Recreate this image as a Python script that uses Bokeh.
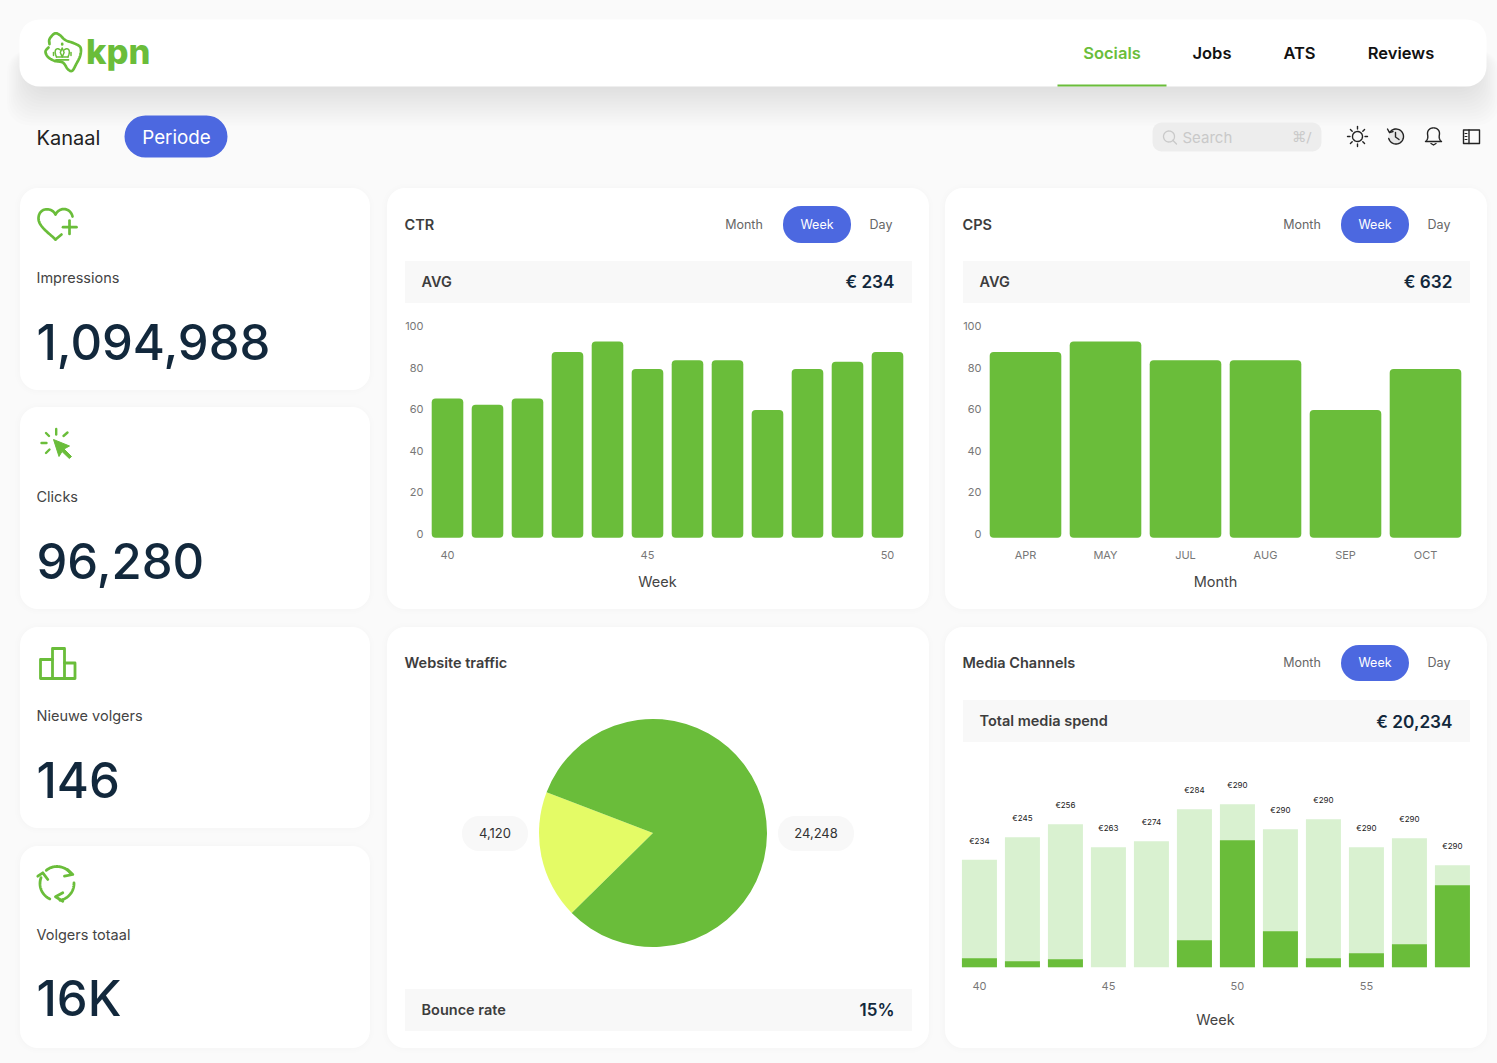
import numpy as np
from bokeh.core.properties import value
from bokeh.embed import file_html
from bokeh.resources import INLINE
from bokeh.layouts import column
from bokeh.models import Range1d, FactorRange, FixedTicker, ColumnDataSource
from bokeh.plotting import figure

# ---- data ----
ctr_index = list(range(12))
ctr_values = [65.2, 62.2, 65.2, 87.5, 92.6, 79.3, 83.5, 83.5, 59.6, 79.3, 82.8, 87.5]
ctr_tick_pos = [0, 5, 11]
ctr_tick_labels = ["40", "45", "50"]

cps_months = ["APR", "MAY", "JUL", "AUG", "SEP", "OCT"]
cps_values = [87.5, 92.6, 83.5, 83.5, 59.6, 79.3]
y_ticks = [0, 20, 40, 60, 80, 100]

pie_labels = ["4,120", "24,248"]
pie_shares = [18.2, 81.8]

media_index = list(range(12))
media_dark = [9, 6, 8, 0, 0, 27, 127, 36, 9, 14, 23, 82]
media_total = [107.5, 130, 143, 120, 126, 158, 163, 138, 148, 120, 129, 102]
media_labels = ["€234", "€245", "€256", "€263", "€274", "€284", "€290", "€290", "€290", "€290", "€290", "€290"]
media_tick_pos = [0, 3, 6, 9]
media_tick_labels = ["40", "45", "50", "55"]

kpi_names = ["Impressions", "Clicks", "Nieuwe volgers", "Volgers totaal"]
kpi_values = ["1,094,988", "96,280", "146", "16K"]
nav_items = ["Socials", "Jobs", "ATS", "Reviews"]

# ---- style ----
GREEN = "#6abd3a"
PALE = "#d9f1d0"
YELLOW = "#e4fb66"
BLUE = "#4c68e0"
INK = "#12283c"
BODY = "#444444"
FONT = "Inter"
SEMI = "Inter SemiBold"
MEDIUM = "Inter Medium"

W, H = 1498, 1064
bg = figure(width=W, height=H, x_range=Range1d(0, W), y_range=Range1d(H, 0),
            x_axis_location=None, y_axis_location=None, frame_align=False,
            output_backend="svg", toolbar_location=None, min_border=0,
            background_fill_color="#fafafa", border_fill_color="#fafafa",
            outline_line_color=None, styles={"position": "absolute", "left": "0px", "top": "0px"})
bg.grid.visible = False


def box(l, t, r, b, color="#ffffff", radius=0, alpha=1.0):
    bg.quad(left=[l], right=[r], top=[t], bottom=[b], fill_color=color, fill_alpha=alpha,
            line_color=None, border_radius=int(round(radius)))


def txt(x, y, s, size, color=BODY, align="left", font=FONT, bold=False):
    bg.text(x=[x], y=[y], text=[s], text_font=value(font), text_font_size=f"{size}px", text_color=color,
            text_align=align, text_baseline="middle", text_font_style="bold" if bold else "normal")


def stroke(xs, ys, color=GREEN, width=2.5):
    bg.line(xs, ys, line_color=color, line_width=width, line_cap="round", line_join="round")


def arc_pts(cx, cy, r, a0, a1, n=40):
    a = np.radians(np.linspace(a0, a1, n))
    return cx + r * np.cos(a), cy + r * np.sin(a)


def bez(p0, p1, p2, p3, n=24):
    t = np.linspace(0, 1, n)[:, None]
    p0, p1, p2, p3 = map(np.array, (p0, p1, p2, p3))
    return (1 - t) ** 3 * p0 + 3 * (1 - t) ** 2 * t * p1 + 3 * (1 - t) * t ** 2 * p2 + t ** 3 * p3


# header shadow
for i in range(14):
    g = 3 * (14 - i)
    box(20 - (g - 21) * 0.6, 50, 1487 + (g - 21) * 0.6, 84 + g, "#000000", 22, 0.0065)
box(20, 20, 1487, 87, radius=20)
box(1058, 85, 1167, 87, GREEN)

# logo
logo_zoom = [(30, 50), (30, 35), (45, 18), (60, 22), (78, 38), (105, 48), (123, 60), (122, 85), (110, 110),
             (98, 130), (85, 125), (70, 105), (45, 100), (25, 88), (18, 72), (27, 60)]
logo_x = [40 + p[0] / 3 for p in logo_zoom]
logo_y = [28 + p[1] / 3 for p in logo_zoom]
pts = []
for i in range(len(logo_x) - 1):
    p0 = (logo_x[max(i - 1, 0)], logo_y[max(i - 1, 0)])
    p1 = (logo_x[i], logo_y[i])
    p2 = (logo_x[i + 1], logo_y[i + 1])
    p3 = (logo_x[min(i + 2, len(logo_x) - 1)], logo_y[min(i + 2, len(logo_y) - 1)])
    c1 = (p1[0] + (p2[0] - p0[0]) / 6, p1[1] + (p2[1] - p0[1]) / 6)
    c2 = (p2[0] - (p3[0] - p1[0]) / 6, p2[1] - (p3[1] - p1[1]) / 6)
    pts.append(bez(p1, c1, c2, p2, 10))
pts = np.vstack(pts)
stroke(pts[:, 0], pts[:, 1], GREEN, 2.7)
stroke([62.7, 62.7], [44.3, 45], GREEN, 2.6)
stroke([56.5, 69], [60.3, 60.3], GREEN, 1.8)
cr1 = bez((57, 57.5), (53.5, 50), (57.5, 47.5), (60.8, 50.5), 10)
cr2 = bez((68.5, 57.5), (72, 50), (68, 47.5), (64.6, 50.5), 10)
stroke(cr1[:, 0], cr1[:, 1], GREEN, 1.5)
stroke(cr2[:, 0], cr2[:, 1], GREEN, 1.5)
stroke([62.7, 60.8, 62.7, 64.6, 62.7], [48.5, 53, 57.5, 53, 48.5], GREEN, 1.5)
stroke([57, 68.5], [57.5, 57.5], GREEN, 1.5)
stroke([54, 54], [53, 56], GREEN, 1.5)
stroke([71.5, 71.5], [53, 56], GREEN, 1.5)
txt(86.5, 52, "kpn", 34.5, GREEN, font="Inter ExtraBold")

# nav
for name, x, col in zip(nav_items, [1112.5, 1212.5, 1300, 1401.5], [GREEN, "#111111", "#111111", "#111111"]):
    txt(x, 53.5, name, 16.5, col, "center", SEMI)

# toolbar row
txt(37, 138, "Kanaal", 20, "#222222")
box(125, 116, 228, 158, BLUE, 21)
txt(177, 138, "Periode", 18.8, "#ffffff", "center")
box(1153, 123, 1322, 152, "#ededed", 9)
sx, sy = arc_pts(1169.5, 137, 5.5, 0, 360)
stroke(sx, sy, "#c9c9c9", 1.3)
stroke([1173.5, 1177], [141, 144.5], "#c9c9c9", 1.3)
txt(1183, 137.5, "Search", 15, "#c9c9c9")
txt(1312, 137.5, "⌘/", 14.5, "#c9c9c9", "right", "DejaVu Sans")

DK = "#222222"
sx, sy = arc_pts(1358, 137, 5, 0, 360)
stroke(sx, sy, DK, 1.4)
for a in range(0, 360, 45):
    c, s_ = np.cos(np.radians(a)), np.sin(np.radians(a))
    stroke([1358 + 7.5 * c, 1358 + 10 * c], [137 + 7.5 * s_, 137 + 10 * s_], DK, 1.4)

sx, sy = arc_pts(1396.5, 137, 7.5, 0, 360)
bg.patch(sx, sy, fill_color="#e6e6e6", line_color=None)
sx, sy = arc_pts(1396.5, 137, 7.5, -145, 165)
stroke(sx, sy, DK, 1.4)
stroke([1388, 1390, 1393.5], [129.5, 133.2, 132], DK, 1.4)
stroke([1396, 1396, 1399.5], [133, 137.5, 140], DK, 1.4)

b1 = bez((1426, 142), (1429.5, 139), (1428, 136), (1428, 134))
b2 = bez((1428, 134), (1428, 126.5), (1440, 126.5), (1440, 134))
b3 = bez((1440, 134), (1440, 136), (1438.5, 139), (1442, 142))
bell = np.vstack([b1, b2, b3, [[1426, 142]]])
stroke(bell[:, 0], bell[:, 1], DK, 1.4)
stroke([1431.5, 1434, 1436.5], [144, 145.5, 144], DK, 1.4)

stroke([1464, 1480, 1480, 1464, 1464], [130.5, 130.5, 144, 144, 130.5], DK, 1.4)
stroke([1469.5, 1469.5], [130.5, 144], DK, 1.4)
for yy in (134, 137, 140):
    stroke([1465.5, 1467.5], [yy, yy], DK, 1.0)

# cards
cards = [(20, 188, 370, 390), (20, 407, 370, 609), (20, 627, 370, 828), (20, 846, 370, 1048),
         (387, 188, 929, 609), (945, 188, 1487, 609), (387, 627, 929, 1048), (945, 627, 1487, 1048)]
for l, t, r, b in cards:
    for g in (5, 3, 1.5):
        box(l - g, t - g + 1, r + g, b + g + 1, "#000000", 18 + g, 0.004)
    box(l + 0.5, t + 0.5, r + 0.5, b + 0.5, radius=18)

# KPI texts
for name, val, y_lab, y_val in zip(kpi_names, kpi_values, [278, 497, 716, 935], [342, 561, 780, 999]):
    txt(37, y_lab, name, 14.5, BODY)
    txt(37, y_val, val, 49, INK, font=MEDIUM)

# heart icon
h1 = bez((56, 240), (50, 234), (39, 227), (39, 219))
h2 = bez((39, 219), (39, 208), (52, 207), (56, 215))
h3 = bez((56, 215), (60, 207), (71, 208), (73, 217))
h = np.vstack([h1, h2, h3])
stroke(h[:, 0], h[:, 1], GREEN, 2.7)
stroke([56, 62], [240, 235], GREEN, 2.7)
stroke([63.5, 77], [227.7, 227.7], GREEN, 2.7)
stroke([70, 70], [221, 234.5], GREEN, 2.7)

# click icon
bg.patch([54, 70, 64.5, 72, 69.8, 62.5, 59.5], [440, 446.5, 449.5, 457, 459, 452, 457],
         fill_color=GREEN, line_color=GREEN, line_width=1)
stroke([56.7, 56.7], [429.5, 435], GREEN, 2.4)
stroke([42, 47], [443.5, 443.5], GREEN, 2.4)
stroke([46.5, 49.5], [433.5, 436.5], GREEN, 2.4)
stroke([64, 68], [436.5, 433], GREEN, 2.4)
stroke([46.5, 50], [453.5, 450], GREEN, 2.4)

# bars icon
stroke([41, 41, 75.5, 75.5, 65, 65, 53, 53, 41], [660, 679, 679, 663.5, 663.5, 649, 649, 660, 660], GREEN, 2.8)
stroke([53, 53], [660, 679], GREEN, 2.8)
stroke([65, 65], [663.5, 679], GREEN, 2.8)

# recycle icon
for a0, a1 in [(231, 322), (358, 80), (115, 200)]:
    a1x = a1 if a1 > a0 else a1 + 360
    ax, ay = arc_pts(57.5, 884, 17, a0, a1x)
    stroke(ax, ay, GREEN, 2.8)
stroke([68, 73.3, 65], [870, 875, 876.7], GREEN, 2.8)
stroke([38.3, 43.3, 48.3], [876.7, 873.3, 880], GREEN, 2.8)
stroke([63.3, 56, 63.3], [893.3, 897.3, 901.7], GREEN, 2.8)


# card headers
def period_switch(cx_month, cx_day, l, r, y, t, b):
    txt(cx_month, y, "Month", 12.5, "#666666", "center")
    box(l, t, r, b, BLUE, 18)
    txt((l + r) / 2, y, "Week", 12.5, "#ffffff", "center")
    txt(cx_day, y, "Day", 12.5, "#666666", "center")


txt(405, 225, "CTR", 14.5, "#3d3d3d", font=SEMI)
period_switch(744.5, 881.5, 783.5, 851.5, 225, 206.5, 243.5)
box(405.5, 261.5, 912.5, 303.5, "#f8f8f8")
txt(422, 281.5, "AVG", 14.5, "#3d3d3d", font=SEMI)
txt(895, 282, "€ 234", 17.2, INK, "right", SEMI)
txt(658, 582, "Week", 14.5, BODY, "center")

txt(963, 225, "CPS", 14.5, "#3d3d3d", font=SEMI)
period_switch(1302.5, 1439.5, 1341.5, 1409.5, 225, 206.5, 243.5)
box(963.5, 261.5, 1470.5, 303.5, "#f8f8f8")
txt(980, 281.5, "AVG", 14.5, "#3d3d3d", font=SEMI)
txt(1453, 282, "€ 632", 17.2, INK, "right", SEMI)
txt(1216, 582, "Month", 14.5, BODY, "center")

txt(405, 663, "Website traffic", 14.5, "#3d3d3d", font=SEMI)
box(462.5, 816.5, 528.5, 851.5, "#f8f8f8", 17)
txt(495.5, 833.5, pie_labels[0], 13, "#333333", "center")
box(778.5, 816.5, 854.5, 851.5, "#f8f8f8", 17)
txt(816.5, 833.5, pie_labels[1], 13, "#333333", "center")
box(405.5, 989.5, 912.5, 1031.5, "#f8f8f8")
txt(422, 1009.5, "Bounce rate", 14.5, "#3d3d3d", font=SEMI)
txt(895, 1010, "15%", 17, INK, "right", SEMI)

txt(963, 663, "Media Channels", 14.5, "#3d3d3d", font=SEMI)
period_switch(1302.5, 1439.5, 1341.5, 1409.5, 663, 645.5, 681.5)
box(963.5, 700.5, 1470.5, 742.5, "#f8f8f8")
txt(980, 721, "Total media spend", 14.5, "#3d3d3d", font=SEMI)
txt(1453, 721.5, "€ 20,234", 17.2, INK, "right", SEMI)


def chart(fig_box, frame_box, x_range, y_range, **kw):
    fl, ft, fr, fb = fig_box
    l, t, r, b = frame_box
    p = figure(width=fr - fl, height=fb - ft, x_range=x_range, y_range=y_range,
               output_backend="svg", toolbar_location=None, frame_align=False,
               min_border_left=l - fl, min_border_right=fr - r, min_border_top=t - ft, min_border_bottom=fb - b,
               background_fill_alpha=0, border_fill_alpha=0, outline_line_color=None,
               styles={"position": "absolute", "left": f"{fl}px", "top": f"{ft}px"}, **kw)
    p.grid.visible = False
    for ax in list(p.xaxis) + list(p.yaxis):
        ax.axis_line_color = None
        ax.major_tick_line_color = None
        ax.minor_tick_line_color = None
        ax.major_label_text_font = FONT
        ax.major_label_text_font_size = "11px"
        ax.major_label_text_color = "#777777"
    for ax in p.yaxis:
        ax.major_tick_out = 0
        ax.major_tick_in = 0
    for ax in p.xaxis:
        ax.axis_label_text_font = FONT
        ax.axis_label_text_font_size = "14.5px"
        ax.axis_label_text_font_style = "normal"
        ax.axis_label_text_color = BODY
    return p


# CTR chart: 2.08 px per unit, 40 px per bar
BAR_FLOOR = -1.78
c1 = chart((390, 315, 925, 600), (424, 321, 912, 541), Range1d(-0.6, 11.6), Range1d(-3.1, 102.67))
c1.vbar(x=ctr_index, top=ctr_values, bottom=BAR_FLOOR, width=0.79, fill_color=GREEN, line_color=None, border_radius=4)
c1.xaxis.ticker = FixedTicker(ticks=ctr_tick_pos)
c1.xaxis.major_label_overrides = dict(zip(ctr_tick_pos, ctr_tick_labels))
c1.xaxis.major_label_standoff = 4
c1.yaxis.ticker = FixedTicker(ticks=y_ticks)
c1.yaxis.major_label_standoff = 0

# CPS chart
c2 = chart((948, 315, 1483, 600), (986, 321, 1466, 541), FactorRange(factors=cps_months, range_padding=0), Range1d(-3.1, 102.67))
c2.vbar(x=cps_months, top=cps_values, bottom=BAR_FLOOR, width=0.895, fill_color=GREEN, line_color=None, border_radius=4)
c2.xaxis.major_label_standoff = 1
c2.yaxis.ticker = FixedTicker(ticks=y_ticks)
c2.yaxis.major_label_standoff = 4

# Pie
pie = chart((533, 714, 773, 954), (533, 714, 773, 954), Range1d(-120.5, 119.5), Range1d(-120.5, 119.5),
            x_axis_location=None, y_axis_location=None)
edges = np.radians(159 + np.concatenate([[0], np.cumsum(pie_shares)]) * 3.6)
pie.wedge(x=0, y=0, radius=114, start_angle=edges[:-1], end_angle=edges[1:],
          fill_color=[YELLOW, GREEN], line_color=None)

# Media chart
c4 = chart((948, 770, 1483, 1035), (958, 770, 1474, 971), Range1d(-0.51, 11.49), Range1d(-3.2, 197.8),
           y_axis_location=None)
media = ColumnDataSource(dict(x=media_index, dark=media_dark, total=media_total, label=media_labels))
c4.vbar(x="x", bottom=0, top="total", width=0.814, fill_color=PALE, line_color=None, source=media)
c4.vbar(x="x", bottom=0, top="dark", width=0.814, fill_color=GREEN, line_color=None, source=media)
c4.text(x="x", y="total", text="label", y_offset=-19, text_font=value(FONT), text_font_size="8px", text_color="#222222",
        text_align="center", text_baseline="middle", source=media)
c4.xaxis.ticker = FixedTicker(ticks=media_tick_pos)
c4.xaxis.major_label_overrides = dict(zip(media_tick_pos, media_tick_labels))
c4.xaxis.axis_label = "Week"
c4.xaxis.major_label_standoff = 5
c4.xaxis.axis_label_standoff = 18

root = column(bg, c1, c2, pie, c4, width=W, height=H,
              styles={"position": "absolute", "left": "-1px", "top": "-1px"})
open("out.html", "w").write(file_html(root, INLINE))
